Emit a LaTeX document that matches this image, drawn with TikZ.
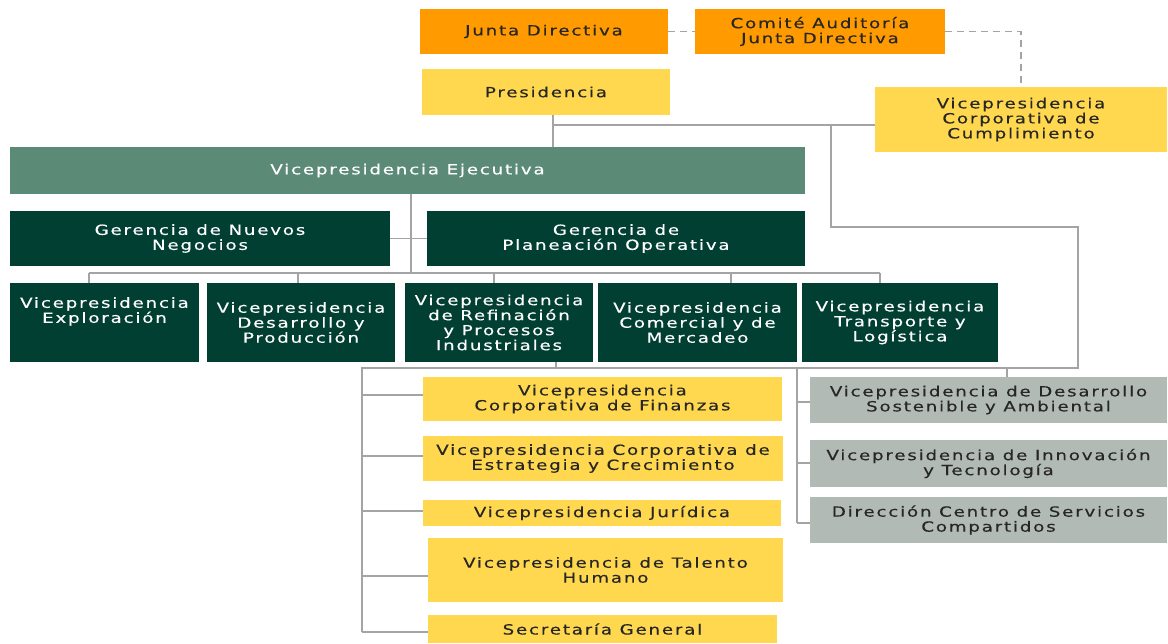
\documentclass[tikz,border=0pt]{standalone}
\usepackage{fontspec}
\setmainfont{DejaVu Sans}[FakeStretch=1.3, LetterSpace=13, FakeBold=0.3]
\definecolor{cOrange}{HTML}{FF9A00}
\definecolor{cYellow}{HTML}{FFD84F}
\definecolor{cTeal}{HTML}{5B8A77}
\definecolor{cDark}{HTML}{023F33}
\definecolor{cGray}{HTML}{B2BAB6}
\definecolor{cLine}{HTML}{A4A4A4}
\definecolor{cText}{HTML}{262626}
\newcommand\orgbox[7]{\node[#6, minimum width={(#4-#2)*1pt}, minimum height={(#5-#3)*1pt}] (#1) at ({(#2+#4)/2},{(#3+#5)/2}) {#7};}
\tikzset{
  base/.style={inner sep=0pt, align=center, font=\fontsize{14}{15}\selectfont},
  orangebox/.style={base, fill=cOrange, text=cText},
  yellowbox/.style={base, fill=cYellow, text=cText},
  tealbox/.style={base, fill=cTeal, text=white},
  darkbox/.style={base, fill=cDark, text=white},
  graybox/.style={base, fill=cGray, text=cText},
  conn/.style={draw=cLine, line width=1.4pt},
  dconn/.style={draw=cLine, line width=1.2pt, dash pattern=on 7pt off 5pt}
}
\begin{document}
\begin{tikzpicture}[x=1pt,y=-1pt]
\fill[white] (0,0) rectangle (1168,643);
\useasboundingbox (0,0) rectangle (1168,643);
% boxes
\orgbox{jd}{420}{9}{668}{54}{orangebox}{Junta Directiva}
\orgbox{ca}{695}{9}{945}{54}{orangebox}{Comité Auditoría\\Junta Directiva}
\orgbox{pr}{422}{69}{670}{115}{yellowbox}{Presidencia}
\orgbox{cu}{875}{87}{1167}{152}{yellowbox}{Vicepresidencia\\Corporativa de\\Cumplimiento}
\orgbox{ve}{10}{147}{805}{194}{tealbox}{Vicepresidencia Ejecutiva}
\orgbox{gn}{10}{211}{390}{266}{darkbox}{Gerencia de Nuevos\\Negocios}
\orgbox{gp}{427}{211}{805}{266}{darkbox}{Gerencia de\\Planeación Operativa}
\orgbox{v1}{10}{283}{199}{362}{darkbox}{Vicepresidencia\\Exploración\\[10pt]\mbox{}}
\orgbox{v2}{207}{283}{395}{362}{darkbox}{Vicepresidencia\\Desarrollo y\\Producción}
\orgbox{v3}{405}{283}{593}{362}{darkbox}{Vicepresidencia\\de Refinación\\y Procesos\\Industriales}
\orgbox{v4}{598}{283}{797}{362}{darkbox}{Vicepresidencia\\Comercial y de\\Mercadeo}
\orgbox{v5}{802}{283}{998}{362}{darkbox}{Vicepresidencia\\Transporte y\\Logística}
\orgbox{y1}{423}{377}{782}{421}{yellowbox}{Vicepresidencia\\Corporativa de Finanzas}
\orgbox{y2}{423}{436}{783}{481}{yellowbox}{Vicepresidencia Corporativa de\\Estrategia y Crecimiento}
\orgbox{y3}{423}{500}{781}{526}{yellowbox}{Vicepresidencia Jurídica}
\orgbox{y4}{428}{538}{783}{602}{yellowbox}{Vicepresidencia de Talento\\Humano}
\orgbox{y5}{428}{615}{777}{643}{yellowbox}{Secretaría General}
\orgbox{g1}{810}{377}{1167}{423}{graybox}{Vicepresidencia de Desarrollo\\Sostenible y Ambiental}
\orgbox{g2}{810}{440}{1167}{487}{graybox}{Vicepresidencia de Innovación\\y Tecnología}
\orgbox{g3}{810}{497}{1167}{543}{graybox}{Dirección Centro de Servicios\\Compartidos}
% junction coordinates
\coordinate (pj) at (553,125);
\coordinate (rj) at (831,125);
\coordinate (rb) at (831,227);
\coordinate (rc) at (1078,227);
\coordinate (bb) at (1078,368);
\coordinate (bl) at (362,368);
\coordinate (vt) at (411,273);
\coordinate (vl) at (89,273);
\coordinate (vr) at (880,273);
\coordinate (ga) at (797,368);
\coordinate (gz) at (797,523);
\coordinate (lz) at (362,632);
% connectors
\draw[dconn] (jd.east) -- (ca.west);
\draw[dconn] (ca.east) -| (cu.north);
\draw[conn] (pr.south -| pj) -- (ve.north -| pj);
\draw[conn] (pj) -- (pj -| cu.west);
\draw[conn] (rj) -- (rb) -- (rc) -- (bb) -- (bl) -- (lz);
\draw[conn] (ve.south -| vt) -- (vt);
\draw[conn] (gn.east) -- (gp.west);
\draw[conn] (vl) -- (vr);
\draw[conn] (vl) -- (v1.north -| vl);
\draw[conn] (298,273) -- (v2.north -| 298,0);
\draw[conn] (494,273) -- (v3.north -| 494,0);
\draw[conn] (731,273) -- (v4.north -| 731,0);
\draw[conn] (vr) -- (v5.north -| vr);
\draw[conn] (v3.south -| 556,0) -- (556,368);
\draw[conn] (1007,368) -- (g1.north -| 1007,0);
\foreach \n/\yy in {y1/395, y2/456, y3/511, y4/576, y5/632}{
  \draw[conn] (362,\yy) -- (\n.west |- 0,\yy);
}
\draw[conn] (ga) -- (gz);
\foreach \n/\yy in {g1/402, g2/463, g3/523}{
  \draw[conn] (797,\yy) -- (\n.west |- 0,\yy);
}
\end{tikzpicture}
\end{document}
